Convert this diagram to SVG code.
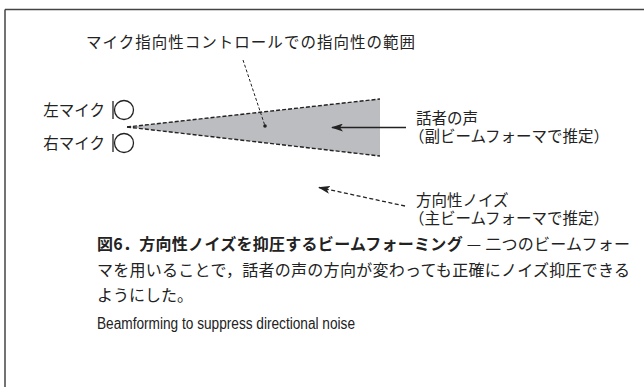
<svg xmlns="http://www.w3.org/2000/svg" width="644" height="387" viewBox="0 0 644 387">
<style>
.t{font-family:"Noto Sans CJK JP","Noto Sans",sans-serif;font-size:15.5px;fill:#222}
.t2{font-family:"Liberation Sans","Noto Sans CJK JP",sans-serif;font-size:15.5px;fill:#222}
.cap{font-family:"Noto Sans CJK JP",sans-serif;font-size:16px;fill:#222}
.capb{font-weight:bold}
.en{font-family:"Liberation Sans","Noto Sans",sans-serif;font-size:16px;fill:#222}
.mic{fill:#fff;stroke:#222;stroke-width:1.3}
.bar{stroke:#222;stroke-width:1.3}
</style>
<defs>
<marker id="ah" viewBox="0 0 12 8" refX="11" refY="4" markerWidth="12" markerHeight="8" markerUnits="userSpaceOnUse" orient="auto">
<path d="M0,0 L12,4 L0,8 L3,4 Z" fill="#222"/>
</marker>
</defs>
<rect width="644" height="387" fill="#fff"/>
<g id="frame" fill="none" stroke="#444" stroke-width="1.5">
<line x1="5" y1="9.5" x2="644" y2="9.5"/>
<line x1="5" y1="9.5" x2="5" y2="387"/>
</g>
<g id="beam">
<polygon points="127,127 380,99 380,156" fill="#bcbdc0"/>
<line x1="127" y1="127" x2="380" y2="99" stroke="#222" stroke-width="1.4" stroke-dasharray="4,2"/>
<line x1="127" y1="127" x2="380" y2="156" stroke="#222" stroke-width="1.4" stroke-dasharray="4,2"/>
<circle cx="265" cy="126" r="1.8" fill="#222"/>
</g>
<g id="left-mic">
<line class="bar" x1="113" y1="101" x2="113" y2="119"/>
<circle class="mic" cx="124" cy="110" r="9.5"/>
<text class="t" x="105" y="115.5" text-anchor="end">左マイク</text>
</g>
<g id="right-mic">
<line class="bar" x1="113" y1="134" x2="113" y2="152"/>
<circle class="mic" cx="124" cy="143" r="9.5"/>
<text class="t" x="105" y="148.5" text-anchor="end">右マイク</text>
</g>
<g id="range-label">
<text class="t" x="86" y="48" textLength="329">マイク指向性コントロールでの指向性の範囲</text>
</g>
<g id="voice-label">
<text class="t2" x="416" y="124">話者の声</text>
<text class="t2" x="409" y="142">（副ビームフォーマで推定）</text>
</g>
<g id="noise-label">
<text class="t2" x="416" y="206">方向性ノイズ</text>
<text class="t2" x="409" y="224">（主ビームフォーマで推定）</text>
</g>
<g id="connectors" fill="none" stroke="#222">
<line x1="243" y1="60" x2="265" y2="126" stroke-width="1" stroke-dasharray="3,2"/>
<line x1="406" y1="127.5" x2="332" y2="127.5" stroke-width="1.5" marker-end="url(#ah)"/>
<line x1="405" y1="206" x2="319" y2="187.5" stroke-width="1.3" stroke-dasharray="4,2.5" marker-end="url(#ah)"/>
</g>
<g id="caption">
<text class="cap" x="97" y="250" textLength="533"><tspan class="capb">図6．方向性ノイズを抑圧するビームフォーミング</tspan><tspan> — 二つのビームフォー</tspan></text>
<text class="cap" x="97" y="276" textLength="533">マを用いることで，話者の声の方向が変わっても正確にノイズ抑圧できる</text>
<text class="cap" x="97" y="301">ようにした。</text>
<text class="en" x="97" y="329" textLength="258" lengthAdjust="spacingAndGlyphs">Beamforming to suppress directional noise</text>
</g>
</svg>
